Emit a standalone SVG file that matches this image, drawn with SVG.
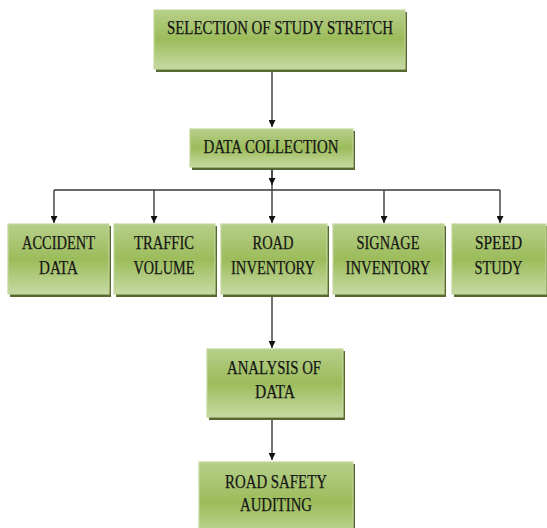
<svg xmlns="http://www.w3.org/2000/svg" width="547" height="528" viewBox="0 0 547 528">
<style>
.box{fill:url(#g);stroke:#c4d79b;stroke-width:1.2}
.sh{fill:#56692f}
.t{font-family:"Liberation Serif","Times New Roman",serif;font-size:19px;fill:#151515;stroke:#151515;stroke-width:0.25;text-anchor:middle}
.c{stroke:#3a3a3a;stroke-width:1.4;fill:none}
</style>
<defs>
<linearGradient id="g" x1="0" y1="0" x2="0" y2="1">
<stop offset="0" stop-color="#b6cf8a"/>
<stop offset="0.5" stop-color="#9cbc5b"/>
<stop offset="1" stop-color="#c6daa2"/>
</linearGradient>
<marker id="a" viewBox="0 0 10 10" refX="10" refY="5" markerWidth="7" markerHeight="7" markerUnits="userSpaceOnUse" orient="auto">
<path d="M0,0 L10,5 L0,10 z" fill="#111"/>
</marker>
</defs>
<rect width="547" height="528" fill="#fff"/>
<g id="connectors">
<path class="c" d="M272,70 V127" marker-end="url(#a)"/>
<path class="c" d="M272,168 V190 M54,190 H500"/>
<path class="c" d="M272,168 V185" marker-end="url(#a)"/>
<path class="c" d="M54,190 V223" marker-end="url(#a)"/>
<path class="c" d="M154,190 V223" marker-end="url(#a)"/>
<path class="c" d="M272,190 V223" marker-end="url(#a)"/>
<path class="c" d="M384,190 V223" marker-end="url(#a)"/>
<path class="c" d="M500,190 V223" marker-end="url(#a)"/>
<path class="c" d="M272,297 V348" marker-end="url(#a)"/>
<path class="c" d="M272,419 V460" marker-end="url(#a)"/>
</g>
<g id="n1">
<rect class="sh" x="156" y="12" width="251" height="60"/>
<rect class="box" x="154" y="10" width="251" height="59"/>
<text class="t" x="280" y="34" textLength="226" lengthAdjust="spacingAndGlyphs">SELECTION OF STUDY STRETCH</text>
</g>
<g id="n2">
<rect class="sh" x="192" y="131" width="163" height="39"/>
<rect class="box" x="190" y="129" width="163" height="38"/>
<text class="t" x="271" y="153" textLength="135" lengthAdjust="spacingAndGlyphs">DATA COLLECTION</text>
</g>
<g id="n3">
<rect class="sh" x="10" y="226" width="101" height="71"/>
<rect class="box" x="8" y="224" width="101" height="70"/>
<text class="t" x="58.5" y="249" textLength="73" lengthAdjust="spacingAndGlyphs">ACCIDENT</text>
<text class="t" x="58.5" y="274" textLength="39" lengthAdjust="spacingAndGlyphs">DATA</text>
</g>
<g id="n4">
<rect class="sh" x="116" y="226" width="101" height="71"/>
<rect class="box" x="114" y="224" width="101" height="70"/>
<text class="t" x="164" y="249" textLength="60" lengthAdjust="spacingAndGlyphs">TRAFFIC</text>
<text class="t" x="164" y="274" textLength="61" lengthAdjust="spacingAndGlyphs">VOLUME</text>
</g>
<g id="n5">
<rect class="sh" x="223" y="226" width="106" height="71"/>
<rect class="box" x="221" y="224" width="106" height="70"/>
<text class="t" x="273" y="249" textLength="41" lengthAdjust="spacingAndGlyphs">ROAD</text>
<text class="t" x="273" y="274" textLength="84" lengthAdjust="spacingAndGlyphs">INVENTORY</text>
</g>
<g id="n6">
<rect class="sh" x="335" y="226" width="111" height="71"/>
<rect class="box" x="333" y="224" width="111" height="70"/>
<text class="t" x="388" y="249" textLength="63" lengthAdjust="spacingAndGlyphs">SIGNAGE</text>
<text class="t" x="388" y="274" textLength="85" lengthAdjust="spacingAndGlyphs">INVENTORY</text>
</g>
<g id="n7">
<rect class="sh" x="454" y="226" width="94" height="71"/>
<rect class="box" x="452" y="224" width="94" height="70"/>
<text class="t" x="498.5" y="249" textLength="47" lengthAdjust="spacingAndGlyphs">SPEED</text>
<text class="t" x="498.5" y="274" textLength="48" lengthAdjust="spacingAndGlyphs">STUDY</text>
</g>
<g id="n8">
<rect class="sh" x="209" y="351" width="136" height="69"/>
<rect class="box" x="207" y="349" width="136" height="68"/>
<text class="t" x="274" y="374" textLength="94" lengthAdjust="spacingAndGlyphs">ANALYSIS OF</text>
<text class="t" x="275" y="398" textLength="40" lengthAdjust="spacingAndGlyphs">DATA</text>
</g>
<g id="n9">
<rect class="sh" x="201" y="464" width="154" height="80"/>
<rect class="box" x="199" y="462" width="154" height="80"/>
<text class="t" x="276" y="488" textLength="102" lengthAdjust="spacingAndGlyphs">ROAD SAFETY</text>
<text class="t" x="276" y="511" textLength="72" lengthAdjust="spacingAndGlyphs">AUDITING</text>
</g>
</svg>
